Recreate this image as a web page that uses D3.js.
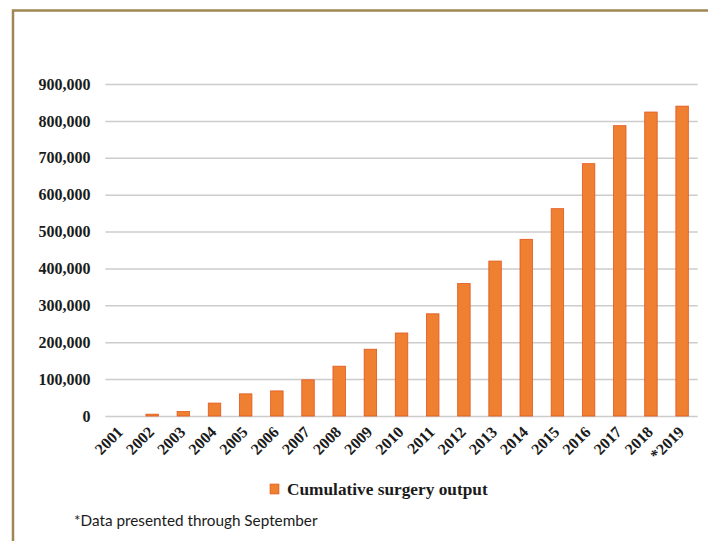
<!DOCTYPE html>
<html>
<head>
<meta charset="utf-8">
<script src="https://cdn.jsdelivr.net/npm/d3@7"></script>
<style>
  body { margin: 0; background: #fff; }
  svg { display: block; }
  .axis text { font-family: "Liberation Serif", "DejaVu Serif", serif; font-weight: bold; font-size: 16px; fill: #1b1b1b; }
</style>
</head>
<body>
<div id="viz"></div>
<script>
//Datos
const years = ['2001','2002','2003','2004','2005','2006','2007','2008','2009','2010',
               '2011','2012','2013','2014','2015','2016','2017','2018','*2019'];
const surgeries = [0, 5000, 12000, 35000, 60000, 68000, 98000, 135000, 181000, 225000,
                   277000, 359000, 420000, 479000, 562000, 684000, 787000, 824000, 840000];
const yTicks = [0, 100000, 200000, 300000, 400000, 500000, 600000, 700000, 800000, 900000];
const legendLabel = 'Cumulative surgery output';
const footnote = '*Data presented through September';

//Colores
const COLOR_BAR = '#EF7F31',
    COLOR_BAR_EDGE = '#E2561C',
    COLOR_GRID = '#cccccc',
    COLOR_FRAME = '#A08652';

let W = 708, H = 541;
let margin = {top: 84, left: 105.4, right: 10.3, bottom: 125},
    width = W - margin.left - margin.right,
    height = H - margin.top - margin.bottom;

let root = d3.select('#viz').append('svg')
    .attr('width', W)
    .attr('height', H);

//Marco
root.append('path')
    .attr('d', 'M13,' + (H + 5) + 'V10.5H' + (W + 5))
    .attr('fill', 'none')
    .attr('stroke', COLOR_FRAME)
    .attr('stroke-width', 2.5);

let svg = root.append('g')
    .attr('transform', 'translate(' + margin.left + ',' + margin.top + ')');

// Y axis
let y = d3.scaleLinear()
    .domain([0, 900000])
    .range([height, 0]);

svg.append('g')
    .attr('class', 'axis')
    .call(d3.axisLeft(y).tickValues(yTicks).tickFormat(d3.format(',')).tickSize(-width).tickPadding(15))
    .call(g => g.select('.domain').remove())
    .call(g => g.selectAll('line').attr('stroke', COLOR_GRID).attr('stroke-width', 1.5));

// X axis
let x = d3.scaleBand()
    .domain(years)
    .range([0, width])
    .paddingInner(0.6)
    .paddingOuter(0.3);

svg.append('g')
    .attr('class', 'axis')
    .attr('transform', 'translate(0,' + height + ')')
    .call(d3.axisBottom(x).tickSize(0))
    .call(g => g.select('.domain').remove())
    .selectAll('text')
        .attr('y', 0)
        .attr('dy', 0)
        .attr('transform', 'translate(3,17)rotate(-45)')
        .style('text-anchor', 'end');

// Bars
svg.selectAll('.bar')
    .data(years.map((d, i) => ({year: d, value: surgeries[i]})))
    .enter()
    .append('rect')
    .attr('class', 'bar')
    .attr('x', d => x(d.year))
    .attr('width', x.bandwidth())
    .attr('y', d => y(d.value))
    .attr('height', d => height - y(d.value))
    .attr('fill', COLOR_BAR)
    .attr('stroke', d => d.value > 0 ? COLOR_BAR_EDGE : 'none')
    .attr('stroke-width', 0.8);

//Leyenda
let legend = root.append('g').attr('transform', 'translate(270,484)');
legend.append('rect')
    .attr('width', 9).attr('height', 10)
    .attr('fill', COLOR_BAR)
    .attr('stroke', COLOR_BAR_EDGE).attr('stroke-width', 0.6);
legend.append('text')
    .attr('x', 17).attr('y', 11)
    .style('font-family', '"Liberation Serif", serif')
    .style('font-weight', 'bold')
    .style('font-size', '17.3px')
    .style('fill', '#1b1b1b')
    .text(legendLabel);

//Nota
root.append('text')
    .attr('x', 74).attr('y', 526)
    .style('font-family', 'Lato, "Open Sans", sans-serif')
    .style('font-size', '15.3px')
    .style('fill', '#1b1b1b')
    .text(footnote);
</script>
</body>
</html>
